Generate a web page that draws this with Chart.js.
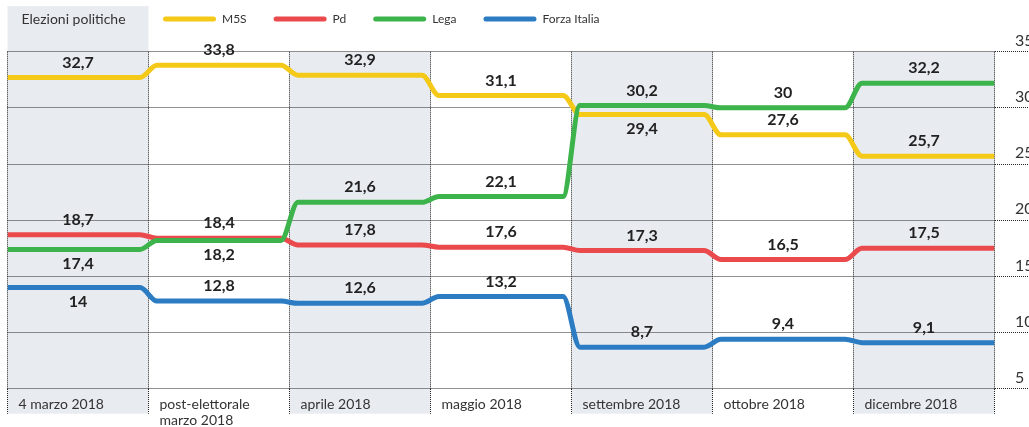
<!DOCTYPE html>
<html>
<head>
<meta charset="utf-8">
<script src="https://cdn.jsdelivr.net/npm/chart.js@4/dist/chart.umd.min.js"></script>
<style>
  html, body { margin: 0; padding: 0; background: #fff; }
</style>
</head>
<body>
<canvas id="pollChart" width="1029" height="427"></canvas>
<script>
/* Data */
const periods = ['4 marzo 2018', ['post-elettorale', 'marzo 2018'], 'aprile 2018', 'maggio 2018',
                 'settembre 2018', 'ottobre 2018', 'dicembre 2018'];
const parties = ['M5S', 'Pd', 'Lega', 'Forza Italia'];
const m5sValues = [32.7, 33.8, 32.9, 31.1, 29.4, 27.6, 25.7];
const pdValues = [18.7, 18.4, 17.8, 17.6, 17.3, 16.5, 17.5];
const legaValues = [17.4, 18.2, 21.6, 22.1, 30.2, 30, 32.2];
const fiValues = [14, 12.8, 12.6, 13.2, 8.7, 9.4, 9.1];
const yTicks = [5, 10, 15, 20, 25, 30, 35];
const headerLabel = 'Elezioni politiche';

// which side of the line each value label sits on: -1 above, 1 below
const m5sSide = [-1, -1, -1, -1, 1, -1, -1];
const pdSide = [-1, -1, -1, -1, -1, -1, -1];
const legaSide = [1, 1, -1, -1, -1, -1, -1];
const fiSide = [1, -1, -1, -1, -1, -1, -1];

const colors = ['#f5c917', '#ea4a4c', '#3cb44b', '#2b7cc3'];
const bandColor = '#e8ebf0';
const gridColor = '#222';

// flat segment per period, smooth step at the period boundary
const edge = 0.06;
function stepPoints(values) {
  const pts = [];
  values.forEach((v, i) => {
    pts.push({ x: i === 0 ? 0 : i + edge, y: v });
    pts.push({ x: i === values.length - 1 ? values.length : i + 1 - edge, y: v });
  });
  return pts;
}

const fmt = v => String(v).replace('.', ',');

const series = [
  { values: m5sValues, side: m5sSide },
  { values: pdValues, side: pdSide },
  { values: legaValues, side: legaSide },
  { values: fiValues, side: fiSide }
];

// Grey bands behind every other period, plus the header box
const bandsPlugin = {
  id: 'bands',
  beforeDraw(chart) {
    const { ctx, chartArea, scales: { x } } = chart;
    ctx.save();
    ctx.fillStyle = bandColor;
    for (let i = 0; i < periods.length; i += 2) {
      const l = x.getPixelForValue(i);
      const r = x.getPixelForValue(i + 1);
      const top = i === 0 ? 6 : chartArea.top;
      ctx.fillRect(l, top, r - l, chartArea.bottom + 25 - top);
    }
    ctx.fillStyle = '#333';
    ctx.font = '14px Lato';
    ctx.textBaseline = 'middle';
    ctx.fillText(headerLabel, x.getPixelForValue(0) + 14, 19);
    ctx.restore();
  }
};

// Value labels above / below each flat segment
const valueLabelsPlugin = {
  id: 'valueLabels',
  afterDatasetsDraw(chart) {
    const { ctx, scales: { x, y } } = chart;
    ctx.save();
    ctx.font = 'bold 16px Lato';
    ctx.fillStyle = '#222';
    ctx.textAlign = 'center';
    ctx.textBaseline = 'middle';
    series.forEach(s => {
      s.values.forEach((v, i) => {
        const px = x.getPixelForValue(i + 0.5);
        const py = y.getPixelForValue(v) + (s.side[i] < 0 ? -15 : 14);
        ctx.fillText(fmt(v), px, py);
      });
    });
    ctx.restore();
  }
};

// move the legend to the right of the header box
const legendPlacePlugin = {
  id: 'legendPlace',
  afterLayout(chart) {
    const pad = chart.options.plugins.legend.labels.padding;
    chart.legend.left = 163 - pad;
    chart.legend.top = 13 - pad;
  }
};

const ctx = document.getElementById('pollChart').getContext('2d');
Chart.defaults.font.family = 'Lato';

const pollChart = new Chart(ctx, {
  type: 'line',
  data: {
    datasets: [m5sValues, pdValues, legaValues, fiValues].map((vals, k) => ({
      label: parties[k],
      data: stepPoints(vals),
      borderColor: colors[k],
      backgroundColor: colors[k],
      borderWidth: 5,
      pointRadius: 0,
      cubicInterpolationMode: 'monotone',
      fill: false,
      order: k === 2 ? 0 : 1
    }))
  },
  options: {
    responsive: false,
    animation: false,
    layout: {
      padding: { left: 7.5, top: 2.7, right: 0, bottom: 0 }
    },
    plugins: {
      tooltip: { enabled: false },
      legend: {
        position: 'top',
        align: 'start',
        labels: {
          boxWidth: 53,
          boxHeight: 5,
          padding: 27,
          useBorderRadius: true,
          borderRadius: 2.5,
          color: '#333',
          font: { size: 12 },
          sort: (a, b) => a.datasetIndex - b.datasetIndex,
          generateLabels: chart =>
            Chart.defaults.plugins.legend.labels.generateLabels(chart).map(it => ({ ...it, lineWidth: 0 }))
        }
      }
    },
    scales: {
      x: {
        type: 'linear',
        min: 0,
        max: periods.length,
        afterBuildTicks: scale => {
          scale.ticks = periods.map((p, i) => ({ value: i })).concat([{ value: periods.length }]);
        },
        afterFit: scale => { scale.height = 38.3; },
        ticks: {
          callback: v => periods[v] ?? '',
          align: 'start',
          labelOffset: 11,
          padding: -18,
          maxRotation: 0,
          autoSkip: false,
          color: '#333',
          font: { size: 14 }
        },
        grid: {
          color: gridColor,
          lineWidth: 1,
          tickLength: 25,
          tickColor: gridColor,
          tickBorderDash: [1, 1]
        },
        border: { display: false, dash: [1, 1] }
      },
      y: {
        position: 'right',
        min: 5,
        max: 35,
        afterBuildTicks: scale => {
          scale.ticks = yTicks.map(v => ({ value: v }));
        },
        afterFit: scale => { scale.width = 34.5; },
        ticks: {
          labelOffset: -11,
          padding: -14.5,
          color: '#333',
          font: { size: 16 }
        },
        grid: {
          color: gridColor,
          lineWidth: 1,
          tickLength: 35,
          tickColor: gridColor,
          tickBorderDash: [1, 1]
        },
        border: { display: false, dash: [1, 1] }
      }
    }
  },
  plugins: [bandsPlugin, valueLabelsPlugin, legendPlacePlugin]
});
</script>
</body>
</html>
